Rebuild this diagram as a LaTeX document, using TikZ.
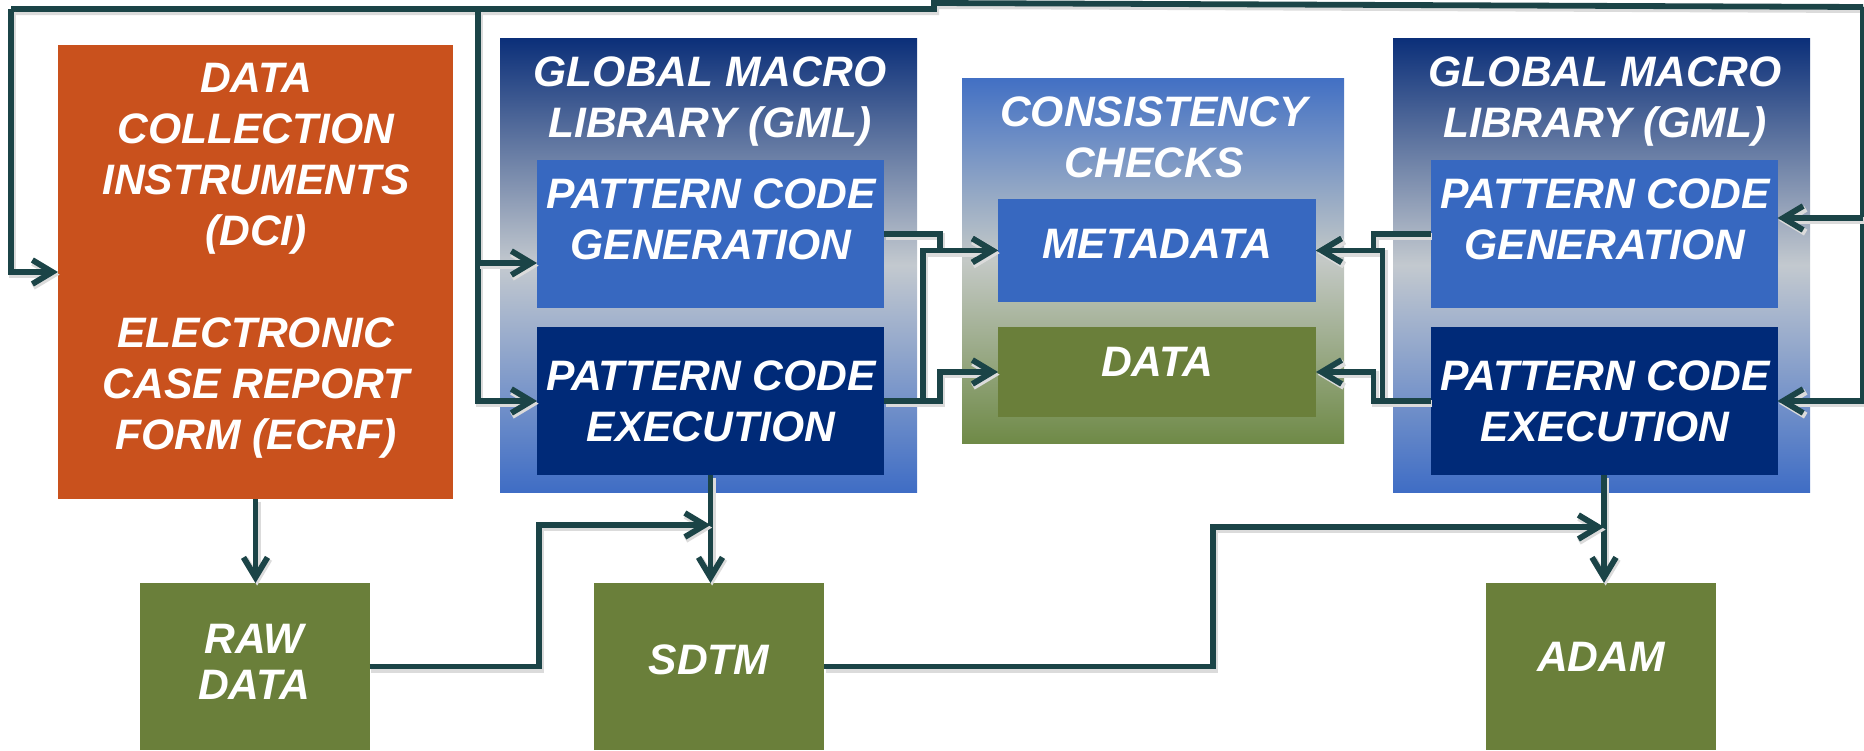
\documentclass[tikz,border=0pt]{standalone}
\usepackage{fontspec}
\setmainfont{Liberation Sans}
\usepackage{tikz}
\usetikzlibrary{arrows.meta}

\definecolor{dciorange}{HTML}{C9511D}
\definecolor{greenbox}{HTML}{6A7F3A}
\definecolor{pcgblue}{HTML}{3768C0}
\definecolor{pcenavy}{HTML}{002A78}
\definecolor{gmltop}{HTML}{0B2F79}
\definecolor{gmlmid}{HTML}{C3C9CF}
\definecolor{gmlbot}{HTML}{3F6DC5}
\definecolor{cctop}{HTML}{4270C4}
\definecolor{ccmid}{HTML}{C4C9C6}
\definecolor{ccbot}{HTML}{6F8A47}
\definecolor{wirecol}{HTML}{1B4447}

\begin{document}
\begin{tikzpicture}[x=0.5pt,y=-0.5pt,
  box/.style={inner sep=0pt,outer sep=0pt},
  txt/.style={text=white,font=\fontsize{21.3}{25.5}\selectfont\bfseries\itshape,align=center,inner sep=0pt},
  dcibox/.style={box,fill=dciorange,minimum width=197.5pt,minimum height=227pt},
  gmlbox/.style={box,minimum width=208.5pt,minimum height=227pt,top color=gmltop,bottom color=gmlbot,middle color=gmlmid},
  ccbox/.style={box,minimum width=191pt,minimum height=182.5pt,top color=cctop,bottom color=ccbot,middle color=ccmid},
  pcgbox/.style={box,fill=pcgblue,minimum width=173.5pt,minimum height=74pt},
  pcebox/.style={box,fill=pcenavy,minimum width=173.5pt,minimum height=74pt},
  databox/.style={box,fill=greenbox,minimum width=115pt,minimum height=83.5pt},
  wire/.style={draw=wirecol,line width=2.9pt,
    preaction={draw=black!14,line width=3.4pt,transform canvas={shift={(0.8pt,-1.3pt)}}}},
  arr/.style={wire,-{Straight Barb[length=10pt,width=12pt]}}]

  \useasboundingbox (0,0) rectangle (1864,750);

  \draw (255.5,272) node[dcibox] (dci) {};
  \draw (708.5,265) node[gmlbox] (gmlA) {};
  \draw (710.5,234) node[pcgbox] (pcgA) {};
  \draw (710.5,401) node[pcebox] (pceA) {};
  \draw (1153,260.5) node[ccbox] (cc) {};
  \draw (1157,250.5) node[box,fill=pcgblue,minimum width=159pt,minimum height=51.5pt] (md) {};
  \draw (1157,372) node[box,fill=greenbox,minimum width=159pt,minimum height=45pt] (data) {};
  \draw (1601.5,265) node[gmlbox] (gmlB) {};
  \draw (1604,234) node[pcgbox] (pcgB) {};
  \draw (1604,401) node[pcebox] (pceB) {};
  \draw (254.5,666.5) node[databox] (raw) {};
  \draw (709,666.5) node[databox] (sdtm) {};
  \draw (1601,666.5) node[databox] (adam) {};

  \draw (256,261) node[txt] (dcitxt) {DATA\\COLLECTION\\INSTRUMENTS\\(DCI)\\[25.5pt]ELECTRONIC\\CASE REPORT\\FORM (ECRF)};
  \draw (710,102) node[txt] (gmlAtxt) {GLOBAL MACRO\\LIBRARY (GML)};
  \draw (711,219) node[txt] (pcgAtxt) {PATTERN CODE\\GENERATION};
  \draw (711,401) node[txt] (pceAtxt) {PATTERN CODE\\EXECUTION};
  \draw (1154,137) node[txt] (cctxt) {CONSISTENCY\\CHECKS};
  \draw (1157,244) node[txt] (mdtxt) {METADATA};
  \draw (1157,362) node[txt] (datatxt) {DATA};
  \draw (1605,102) node[txt] (gmlBtxt) {GLOBAL MACRO\\LIBRARY (GML)};
  \draw (1605,219) node[txt] (pcgBtxt) {PATTERN CODE\\GENERATION};
  \draw (1605,401) node[txt] (pceBtxt) {PATTERN CODE\\EXECUTION};
  \draw (254,662) node[txt,font=\fontsize{21.3}{23}\selectfont\bfseries\itshape] (rawtxt) {RAW\\DATA};
  \draw (709,660) node[txt] (sdtmtxt) {SDTM};
  \draw (1601,657) node[txt] (adamtxt) {ADAM};

  \coordinate (tr) at (1863,7);
  \coordinate (tj) at (934,3);
  \coordinate (tl) at (11,9);
  \coordinate (ta) at (478,9);
  \coordinate (ga) at ([yshift=-14.5pt]pcgA.west);
  \coordinate (gb) at ([yshift=8pt]pcgB.east);
  \coordinate (jA) at (539,525);
  \coordinate (jB) at (1213,527);

  \draw[wire] (tr) -- (tj) -- (tj |- tl) -- (tl);
  \draw[arr] (tl) |- (dci.west);
  \draw[arr] (ta) |- (pceA.west);
  \draw[arr] (ta |- ga) -- (ga);
  \draw[arr] (tr) |- (pceB.east);
  \draw[arr] (tr |- gb) -- (gb);

  \draw[arr] (pcgA.east) -- ++(56,0) |- (md.west);
  \draw[arr] (pceA.east) -- ++(39,0) |- (md.west);
  \draw[arr] (pceA.east) -- ++(56,0) |- (data.west);
  \draw[arr] (pcgB.west) -- ++(-57,0) |- (md.east);
  \draw[arr] (pceB.west) -- ++(-48,0) |- (md.east);
  \draw[arr] (pceB.west) -- ++(-57,0) |- (data.east);

  \draw[arr] (dci.south) -- (dci.south |- raw.north);
  \draw[arr] (pceA.south) -- (pceA.south |- sdtm.north);
  \draw[arr] (pceB.south) -- (pceB.south |- adam.north);
  \draw[arr] (raw.east) -| (jA) -- (jA -| pceA.south);
  \draw[arr] (sdtm.east) -| (jB) -- (jB -| pceB.south);

\end{tikzpicture}
\end{document}
